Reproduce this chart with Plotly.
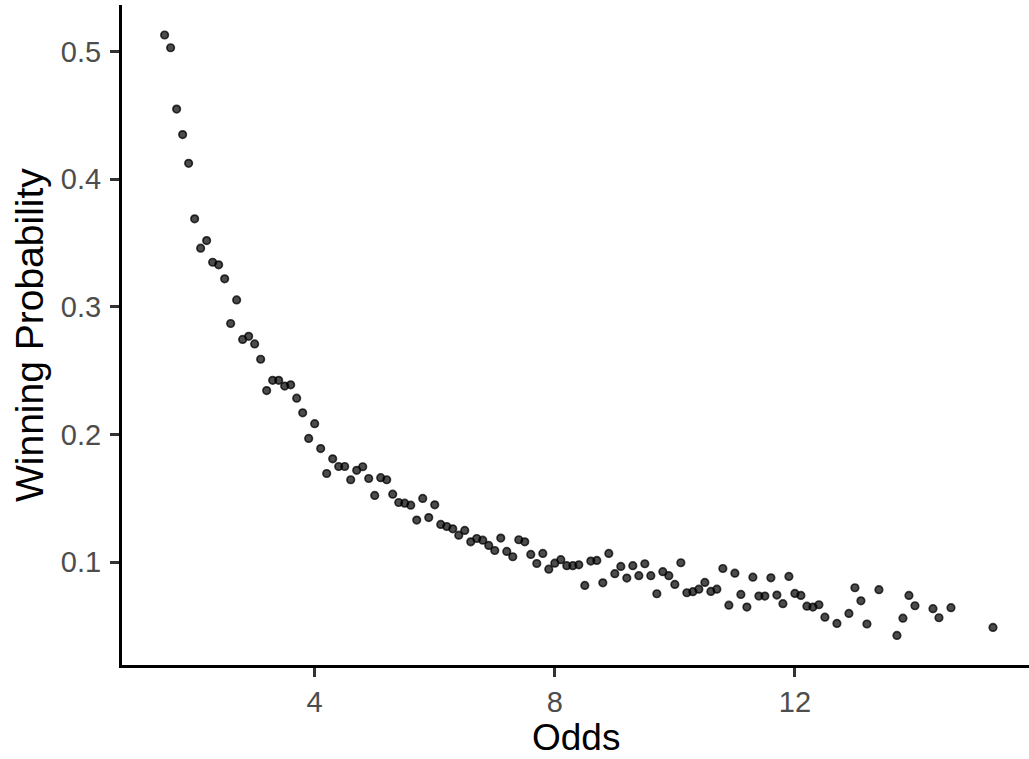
import plotly.graph_objects as go

# Odds and the observed winning probability at each odds value
odds = [1.5, 1.6, 1.7, 1.8, 1.9, 2.0, 2.1, 2.2, 2.3, 2.4,
        2.5, 2.6, 2.7, 2.8, 2.9, 3.0, 3.1, 3.2, 3.3, 3.4,
        3.5, 3.6, 3.7, 3.8, 3.9, 4.0, 4.1, 4.2, 4.3, 4.4,
        4.5, 4.6, 4.7, 4.8, 4.9, 5.0, 5.1, 5.2, 5.3, 5.4,
        5.5, 5.6, 5.7, 5.8, 5.9, 6.0, 6.1, 6.2, 6.3, 6.4,
        6.5, 6.6, 6.7, 6.8, 6.9, 7.0, 7.1, 7.2, 7.3, 7.4,
        7.5, 7.6, 7.7, 7.8, 7.9, 8.0, 8.1, 8.2, 8.3, 8.4,
        8.5, 8.6, 8.7, 8.8, 8.9, 9.0, 9.1, 9.2, 9.3, 9.4,
        9.5, 9.6, 9.7, 9.8, 9.9, 10.0, 10.1, 10.2, 10.3, 10.4,
        10.5, 10.6, 10.7, 10.8, 10.9, 11.0, 11.1, 11.2, 11.3, 11.4,
        11.5, 11.6, 11.7, 11.8, 11.9, 12.0, 12.1, 12.2, 12.3, 12.4,
        12.5, 12.7, 12.9, 13.0, 13.1, 13.2, 13.4, 13.7, 13.8, 13.9,
        14.0, 14.3, 14.4, 14.6, 15.3]

win_prob = [0.513, 0.503, 0.455, 0.435, 0.4125, 0.369, 0.346, 0.352, 0.335, 0.333,
            0.322, 0.287, 0.3055, 0.2745, 0.277, 0.271, 0.259, 0.2345, 0.2425, 0.2425,
            0.238, 0.239, 0.2285, 0.217, 0.197, 0.2085, 0.189, 0.1695, 0.181, 0.175,
            0.175, 0.1646, 0.172, 0.1748, 0.1656, 0.1523, 0.1662, 0.1646, 0.1533, 0.1468,
            0.1463, 0.1447, 0.133, 0.150, 0.135, 0.145, 0.1296, 0.128, 0.1262, 0.1212,
            0.1249, 0.116, 0.1186, 0.1173, 0.1132, 0.1092, 0.1189, 0.1085, 0.1043, 0.1176,
            0.116, 0.1061, 0.099, 0.1069, 0.0946, 0.0993, 0.102, 0.0973, 0.0973, 0.098,
            0.0818, 0.1009, 0.1014, 0.0839, 0.1069, 0.091, 0.0967, 0.0876, 0.0973, 0.0895,
            0.0988, 0.0895, 0.0753, 0.0926, 0.0895, 0.0826, 0.0996, 0.0761, 0.0769, 0.0789,
            0.0842, 0.0771, 0.0789, 0.0951, 0.0664, 0.0914, 0.0748, 0.0649, 0.0883, 0.0735,
            0.0735, 0.0878, 0.0743, 0.0675, 0.0889, 0.0756, 0.074, 0.0656, 0.0649, 0.0667,
            0.057, 0.0521, 0.0599, 0.080, 0.0698, 0.0516, 0.0785, 0.0427, 0.0562, 0.074,
            0.0659, 0.0636, 0.0565, 0.0644, 0.0489]

x_ticks = [4, 8, 12]
y_ticks = [0.1, 0.2, 0.3, 0.4, 0.5]
y_tick_text = ["0.1", "0.2", "0.3", "0.4", "0.5"]

x_title = "Odds"
y_title = "Winning Probability"

x_range = [0.79, 15.9]
y_range = [0.0195, 0.5365]

FONT = "Liberation Sans, Arial, sans-serif"

fig = go.Figure(
    go.Scatter(
        x=odds,
        y=win_prob,
        mode="markers",
        marker=dict(
            size=7.5,
            color="rgba(0,0,0,0.7)",
            line=dict(color="rgba(0,0,0,0.75)", width=1.7),
        ),
        showlegend=False,
        hoverinfo="x+y",
    )
)

axis_common = dict(
    showgrid=False,
    zeroline=False,
    showline=True,
    linecolor="black",
    linewidth=3,
    ticks="outside",
    ticklen=9,
    tickwidth=2.5,
    tickcolor="#333333",
    tickfont=dict(family=FONT, size=29, color="#4D4D4D"),
)

fig.update_xaxes(range=x_range, tickvals=x_ticks,
                 ticktext=[str(v) for v in x_ticks], **axis_common)
fig.update_yaxes(range=y_range, tickvals=y_ticks, ticktext=y_tick_text,
                 ticklabelstandoff=3, **axis_common)

# Axis titles placed as paper-anchored annotations for exact spacing
fig.add_annotation(text=x_title, xref="paper", yref="paper", x=0.5, y=0,
                   xanchor="center", yanchor="bottom", yshift=-94,
                   borderpad=0, showarrow=False,
                   font=dict(family=FONT, size=37, color="black"))
fig.add_annotation(text=y_title, xref="paper", yref="paper", x=0, y=0.5,
                   xanchor="center", yanchor="middle", xshift=-93,
                   textangle=-90, showarrow=False,
                   font=dict(family=FONT, size=39, color="black"))

fig.update_layout(
    width=1029,
    height=759,
    margin=dict(l=122, r=0, t=5, b=94, autoexpand=False),
    paper_bgcolor="white",
    plot_bgcolor="white",
)

fig.write_html("out.html")
